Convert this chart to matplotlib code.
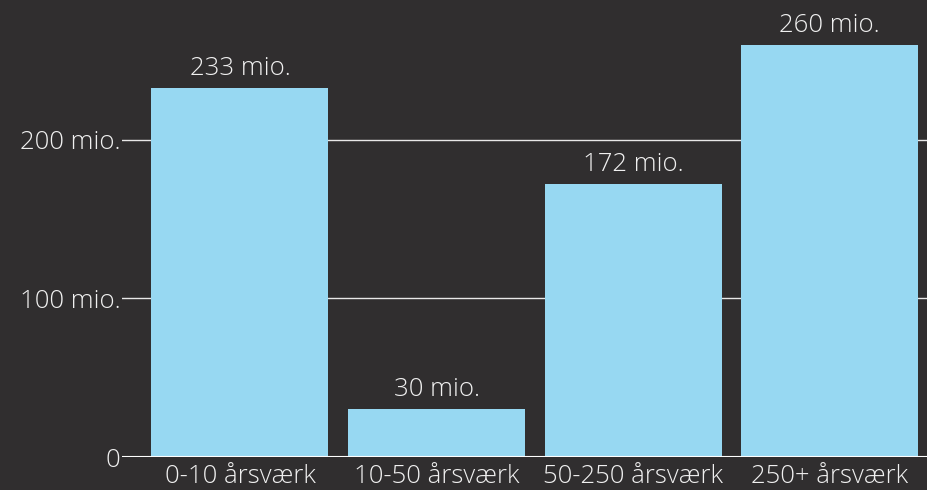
import matplotlib
matplotlib.use("Agg")
import matplotlib.pyplot as plt

categories = ["0-10 årsværk", "10-50 årsværk", "50-250 årsværk", "250+ årsværk"]
values = [233, 30, 172, 260]
value_labels = ["233 mio.", "30 mio.", "172 mio.", "260 mio."]
yticks = [0, 100, 200]
ytick_labels = ["0", "100 mio.", "200 mio."]

bg = "#302e2f"
bar_color = "#97d8f2"
plt.rcParams['font.family'] = ['Open Sans', 'DejaVu Sans']
plt.rcParams['font.weight'] = 'light'
FS = 18.5

fig = plt.figure(figsize=(9.28, 4.9), dpi=100, facecolor=bg)
W, H = 928, 490
ax = fig.add_axes([122 / W, 33 / H, (928 - 122) / W, (457 - 2) / H])
ax.set_facecolor(bg)

x = list(range(len(categories)))
ax.bar(x, values, width=0.9, color=bar_color, zorder=2)
ax.set_xlim(-0.60, 3.5)
ax.set_ylim(0, 287)

for xi, v, lab in zip(x, values, value_labels):
    ax.annotate(lab, (xi, v), xytext=(0, 5), textcoords="offset points",
                ha="center", va="bottom", color="#f0f0f0", fontsize=FS,
                fontweight='light')

ax.set_yticks(yticks)
ax.set_yticklabels(ytick_labels)
ax.set_xticks(x)
ax.set_xticklabels(categories)
ax.tick_params(axis="both", length=0, colors="white", labelsize=FS)
ax.tick_params(axis="y", pad=1)
ax.tick_params(axis="x", pad=5)
for t in ax.get_xticklabels() + ax.get_yticklabels():
    t.set_color("#f0f0f0")
    t.set_fontweight('light')

ax.grid(axis="y", color="#e8e8e8", linewidth=1.0, zorder=1)
ax.grid(axis="x", visible=False)
for s in ax.spines.values():
    s.set_visible(False)
ax.axhline(0, color="white", linewidth=1.5, zorder=3)

fig.savefig("out.png", dpi=100, facecolor=bg)
